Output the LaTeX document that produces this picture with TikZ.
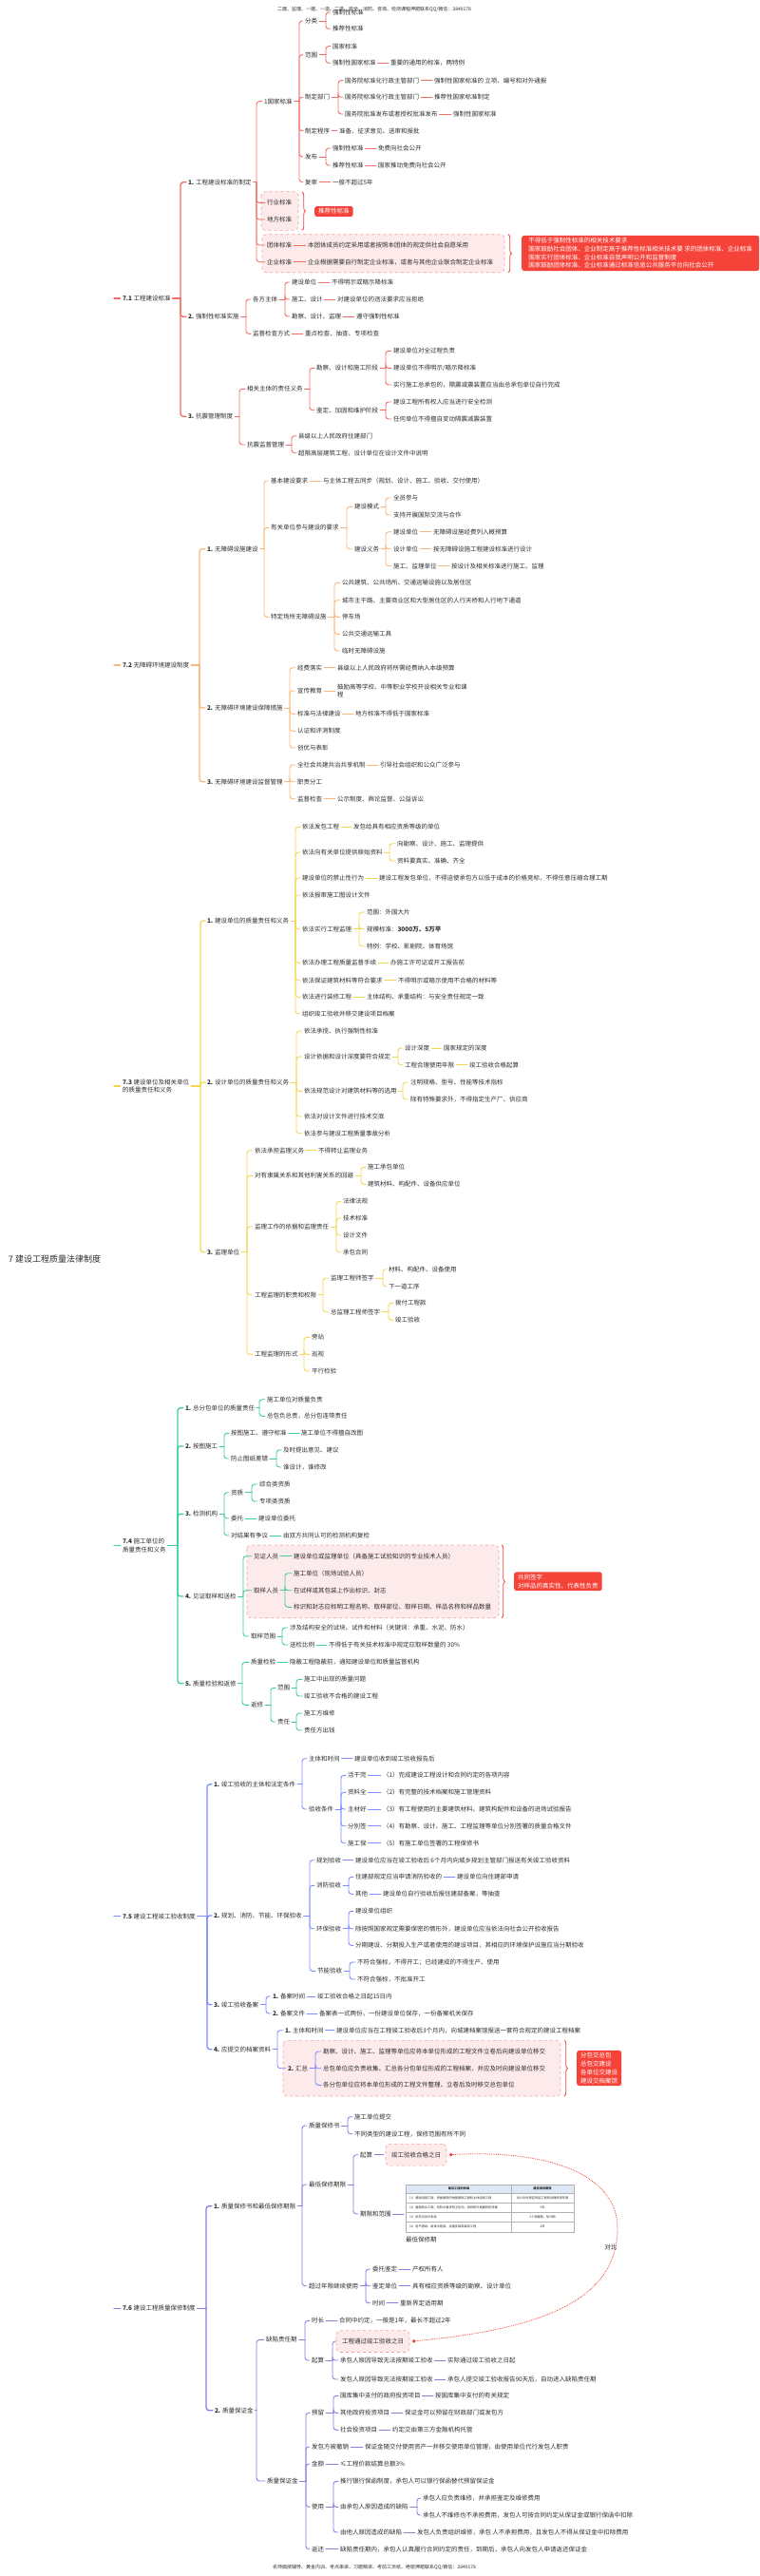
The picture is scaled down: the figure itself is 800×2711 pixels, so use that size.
\documentclass[tikz,border=0pt]{standalone}
\usepackage{fontspec}
\setmainfont{Noto Sans CJK SC}
\usetikzlibrary{arrows.meta,decorations.pathreplacing}
\definecolor{txc}{RGB}{45,45,45}
\definecolor{c1}{RGB}{242,110,100}
\definecolor{c2}{RGB}{250,183,120}
\definecolor{c3}{RGB}{246,214,80}
\definecolor{c4}{RGB}{60,206,158}
\definecolor{c5}{RGB}{122,140,255}
\definecolor{c6}{RGB}{140,124,226}
\definecolor{pf}{RGB}{253,234,234}
\definecolor{pb}{RGB}{245,160,160}
\definecolor{rb}{RGB}{245,67,58}
\definecolor{thd}{RGB}{221,232,246}
\tikzset{
 lbl/.style={anchor=west,inner sep=0pt,outer sep=0pt,align=left,font=\fontsize{6.5}{8.4}\selectfont,text=txc},
 lk/.style={line width=0.9pt,line cap=round},
 lk1/.style={line width=1.3pt,line cap=round},
 pbox/.style={draw=pb,fill=pf,dashed,rounded corners=4pt,line width=0.6pt},
 pk/.style={lbl,draw=pb,fill=pf,dashed,rounded corners=4pt,line width=0.6pt,inner xsep=6pt,inner ysep=8.4pt},
 rbox/.style={fill=rb,rounded corners=2.5pt,text=white,inner xsep=4pt,inner ysep=2.5pt,align=left,font=\fontsize{6.5}{8.7}\selectfont},
 brc/.style={draw=rb,line width=0.8pt,decorate,decoration={brace,amplitude=3.5pt}},
 tiny/.style={inner sep=0pt,font=\fontsize{3.2}{4}\selectfont,text=txc},
 small/.style={inner sep=0pt,anchor=west,font=\fontsize{5}{6}\selectfont,text=txc},
}
\newcommand\mnode[4]{\node[lbl] (#1) at (#2,#3) {#4};}
\newcommand\mlink[2]{\draw[lk] ([xshift=2pt]#1.east) -- ([xshift=-2pt]#2.west);}
\newcommand\mpair[6]{\mnode{#1}{#2}{#3}{#4}\mnode{#1x}{#5}{#3}{#6}\mlink{#1}{#1x}}
\newcommand\mbr[4][lk]{\draw[#1] ([xshift=2pt]#2.east) -- (#3,0 |- #2.east);\foreach \ch in {#4}{\draw[#1,rounded corners=3pt] (#3,0 |- #2.east) |- ([xshift=-2pt]\ch.west);}}
\begin{document}
\begin{tikzpicture}[x=1pt,y=-1pt]
\fill[white] (0,0) rectangle (800,2711);
\useasboundingbox (0,0) rectangle (800,2711);

\node[small] (hdr) at (292,10) {二建、监理、一建、一造、二造、安全、消防、咨询、检测课程押题联系QQ/微信：3849178};
\node[small] (ftr) at (287,2701.7) {名师面授辅导、黄金内训、考点串讲、习题精讲、考前三页纸、绝密押题联系QQ/微信：3849178};

\node[lbl,font=\fontsize{9}{11}\selectfont] (root) at (9,1325) {7 建设工程质量法律制度};

% ================= T1 =================
\begin{scope}[color=c1]
\draw[pbox] (275,201.7) rectangle (314,242.3);
\draw[pbox] (276,246.7) rectangle (531,286.7);
\mnode{T1}{129}{314}{\textbf{7.1} 工程建设标准}
\mnode{a1}{198}{191.7}{\textbf{1.} 工程建设标准的制定}
\mnode{a2}{198}{333.3}{\textbf{2.} 强制性标准实施}
\mnode{a3}{198}{438.3}{\textbf{3.} 抗震管理制度}
\mbr[lk1]{T1}{190}{a1,a2,a3}
\mnode{an}{278}{106.7}{1国家标准}
\mnode{ah}{281}{213.3}{行业标准}
\mnode{ad}{281}{231}{地方标准}
\mpair{at}{281}{258}{团体标准}{324}{本团体成员约定采用或者按照本团体的规定供社会自愿采用}
\mpair{aq}{281}{275.7}{企业标准}{324}{企业根据需要自行制定企业标准，或者与其他企业联合制定企业标准}
\mbr{a1}{270}{an,ah,ad,at,aq}
\mnode{an1}{321}{22}{分类}
\mnode{an2}{321}{57.7}{范围}
\mnode{an3}{321}{102.3}{制定部门}
\mpair{an4}{321}{137.7}{制定程序}{357}{准备、征求意见、送审和报批}
\mnode{an5}{321}{165}{发布}
\mpair{an6}{321}{191.7}{复审}{350}{一般不超过5年}
\mbr{an}{315}{an1,an2,an3,an4,an5,an6}
\mnode{an1a}{350}{13}{强制性标准}
\mnode{an1b}{350}{30.3}{推荐性标准}
\mbr{an1}{343}{an1a,an1b}
\mnode{an2a}{350}{48.7}{国家标准}
\mpair{an2b}{350}{66.3}{强制性国家标准}{411}{重要的通用的标准，两特例}
\mbr{an2}{343}{an2a,an2b}
\mpair{an3a}{363}{84.7}{国务院标准化行政主管部门}{457}{强制性国家标准的 立项、编号和对外通报}
\mpair{an3b}{363}{102.3}{国务院标准化行政主管部门}{457}{推荐性国家标准制定}
\mpair{an3c}{363}{120}{国务院批准发布或者授权批准发布}{477}{强制性国家标准}
\mbr{an3}{356}{an3a,an3b,an3c}
\mpair{an5a}{350}{156}{强制性标准}{398}{免费向社会公开}
\mpair{an5b}{350}{174}{推荐性标准}{398}{国家推动免费向社会公开}
\mbr{an5}{343}{an5a,an5b}
\draw[brc] (318,202) -- (318,242.3);
\node[rbox,anchor=west] (ar1) at (331,222.5) {推荐性标准};
\draw[brc] (535,246.7) -- (535,286.7);
\node[rbox,anchor=north west,minimum width=250pt] (ar2) at (549,247.7) {不得低于强制性标准的相关技术要求\\国家鼓励社会团体、企业制定高于推荐性标准相关技术要 求的团体标准、企业标准\\国家实行团体标准、企业标准自我声明公开和监督制度\\国家鼓励团体标准、企业标准通过标准信息公共服务平台向社会公开};
\mnode{a2a}{266}{315}{各方主体}
\mpair{a2b}{266}{351.3}{监督检查方式}{321}{重点检查、抽查、专项检查}
\mbr{a2}{259}{a2a,a2b}
\mpair{a2a1}{307}{297}{建设单位}{349}{不得明示或暗示降标准}
\mpair{a2a2}{307}{315}{施工、设计}{355}{对建设单位的违法要求应当拒绝}
\mpair{a2a3}{307}{333}{勘察、设计、监理}{375}{遵守强制性标准}
\mbr{a2a}{300}{a2a1,a2a2,a2a3}
\mnode{a3a}{260}{409.3}{相关主体的责任义务}
\mnode{a3b}{260}{468}{抗震监督管理}
\mbr{a3}{252}{a3a,a3b}
\mnode{a3a1}{333}{387.3}{勘察、设计和施工阶段}
\mnode{a3a2}{333}{431.7}{鉴定、加固和维护阶段}
\mbr{a3a}{326}{a3a1,a3a2}
\mnode{ap1}{414}{369.3}{建设单位对全过程负责}
\mnode{ap2}{414}{387.3}{建设单位不得明示/暗示降标准}
\mnode{ap3}{414}{405}{实行施工总承包的，隔震减震装置应当由总承包单位自行完成}
\mbr{a3a1}{406}{ap1,ap2,ap3}
\mnode{ap4}{414}{423}{建设工程所有权人应当进行安全检测}
\mnode{ap5}{414}{441}{任何单位不得擅自变动隔震减震装置}
\mbr{a3a2}{406}{ap4,ap5}
\mnode{ap6}{314}{458.7}{县级以上人民政府住建部门}
\mnode{ap7}{314}{476.7}{超限高层建筑工程，设计单位在设计文件中说明}
\mbr{a3b}{307}{ap6,ap7}
\end{scope}

% ================= T2 =================
\begin{scope}[color=c2]
\mnode{T2}{129}{700}{\textbf{7.2} 无障碍环境建设制度}
\mnode{b1}{218}{577.7}{\textbf{1.} 无障碍设施建设}
\mnode{b2}{218}{745}{\textbf{2.} 无障碍环境建设保障措施}
\mnode{b3}{218}{822.7}{\textbf{3.} 无障碍环境建设监督管理}
\mbr[lk1]{T2}{210}{b1,b2,b3}
\mpair{b1a}{285}{506}{基本建设要求}{340}{与主体工程五同步（规划、设计、施工、验收、交付使用）}
\mnode{b1b}{285}{555.3}{有关单位参与建设的要求}
\mnode{b1c}{285}{649.3}{特定场所无障碍设施}
\mbr{b1}{278}{b1a,b1b,b1c}
\mnode{b1b1}{373}{533.3}{建设模式}
\mnode{b1b2}{373}{577.7}{建设义务}
\mbr{b1b}{365}{b1b1,b1b2}
\mnode{bq1}{414}{524}{全员参与}
\mnode{bq2}{414}{542}{支持开展国际交流与合作}
\mbr{b1b1}{406}{bq1,bq2}
\mpair{bq3}{414}{559.7}{建设单位}{456}{无障碍设施经费列入概预算}
\mpair{bq4}{414}{577.7}{设计单位}{456}{按无障碍设施工程建设标准进行设计}
\mpair{bq5}{414}{595.7}{施工、监理单位}{475}{按设计及相关标准进行施工、监理}
\mbr{b1b2}{406}{bq3,bq4,bq5}
\mnode{bs1}{360}{613.3}{公共建筑、公共场所、交通运输设施以及居住区}
\mnode{bs2}{360}{631.7}{城市主干路、主要商业区和大型居住区的人行天桥和人行地下通道}
\mnode{bs3}{360}{649.3}{停车场}
\mnode{bs4}{360}{667.3}{公共交通运输工具}
\mnode{bs5}{360}{685}{临时无障碍设施}
\mbr{b1c}{352}{bs1,bs2,bs3,bs4,bs5}
\mpair{b2a}{313}{702.7}{经费落实}{355}{县级以上人民政府将所需经费纳入本级预算}
\mpair{b2b}{313}{727}{宣传教育}{355}{鼓励高等学校、中等职业学校开设相关专业和课\\程}
\mpair{b2c}{313}{751.3}{标准与法律建设}{374}{地方标准不得低于国家标准}
\mnode{b2d}{313}{769.3}{认证和评测制度}
\mnode{b2e}{313}{787}{创优与表彰}
\mbr{b2}{305}{b2a,b2b,b2c,b2d,b2e}
\mpair{b3a}{313}{805}{全社会共建共治共享机制}{400}{引导社会组织和公众广泛参与}
\mnode{b3b}{313}{822.7}{职责分工}
\mpair{b3c}{313}{840.7}{监督检查}{355}{公示制度、舆论监督、公益诉讼}
\mbr{b3}{305}{b3a,b3b,b3c}
\end{scope}

% ================= T3 =================
\begin{scope}[color=c3]
\mnode{T3}{129}{1143}{\textbf{7.3} 建设单位及相关单位\\的质量责任和义务}
\mnode{c1}{218}{969}{\textbf{1.} 建设单位的质量责任和义务}
\mnode{c2}{218}{1139}{\textbf{2.} 设计单位的质量责任和义务}
\mnode{c3}{218}{1317.7}{\textbf{3.} 监理单位}
\mbr[lk1]{T3}{211}{c1,c2,c3}
\mpair{c1a}{318}{870.3}{依法发包工程}{372}{发包给具有相应资质等级的单位}
\mnode{c1b}{318}{897}{依法向有关单位提供原始资料}
\mpair{c1c}{318}{924}{建设单位的禁止性行为}{399}{建设工程发包单位，不得迫使承包方以低于成本的价格竞标，不得任意压缩合理工期}
\mnode{c1d}{318}{942}{依法报审施工图设计文件}
\mnode{c1e}{318}{977.7}{依法实行工程监理}
\mpair{c1f}{318}{1013.3}{依法办理工程质量监督手续}{411}{办施工许可证或开工报告前}
\mpair{c1g}{318}{1031.7}{依法保证建筑材料等符合要求}{419}{不得明示或暗示使用不合格的材料等}
\mpair{c1h}{318}{1049.3}{依法进行装修工程}{386}{主体结构、承重结构：与安全责任规定一致}
\mnode{c1i}{318}{1066.7}{组织竣工验收并移交建设项目档案}
\mbr{c1}{311}{c1a,c1b,c1c,c1d,c1e,c1f,c1g,c1h,c1i}
\mnode{cb1}{418}{887.7}{向勘察、设计、施工、监理提供}
\mnode{cb2}{418}{906}{资料要真实、准确、齐全}
\mbr{c1b}{410}{cb1,cb2}
\mnode{ce1}{386}{960}{范围：外国大片}
\mnode{ce2}{386}{977.7}{规模标准：\textbf{3000万、5万平}}
\mnode{ce3}{386}{995.7}{特例：学校、影剧院、体育场馆}
\mbr{c1e}{378}{ce1,ce2,ce3}
\mnode{c2a}{320}{1085}{依法承揽、执行强制性标准}
\mnode{c2b}{320}{1112}{设计依据和设计深度要符合规定}
\mnode{c2c}{320}{1148.3}{依法规范设计对建筑材料等的选用}
\mnode{c2d}{320}{1175}{依法对设计文件进行技术交底}
\mnode{c2e}{320}{1192.7}{依法参与建设工程质量事故分析}
\mbr{c2}{312}{c2a,c2b,c2c,c2d,c2e}
\mpair{cc1}{426}{1103}{设计深度}{467}{国家规定的深度}
\mpair{cc2}{426}{1120.7}{工程合理使用年限}{494}{竣工验收合格起算}
\mbr{c2b}{419}{cc1,cc2}
\mnode{cc3}{432}{1139}{注明规格、型号、性能等技术指标}
\mnode{cc4}{432}{1157}{除有特殊要求外，不得指定生产厂、供应商}
\mbr{c2c}{424}{cc3,cc4}
\mpair{c3a}{268}{1210.7}{依法承担监理义务}{335}{不得转让监理业务}
\mnode{c3b}{268}{1237.3}{对有隶属关系和其他利害关系的回避}
\mnode{c3c}{268}{1291}{监理工作的依据和监理责任}
\mnode{c3d}{268}{1362.7}{工程监理的职责和权限}
\mnode{c3e}{268}{1425.3}{工程监理的形式}
\mbr{c3}{260}{c3a,c3b,c3c,c3d,c3e}
\mnode{cm1}{387}{1228.3}{施工承包单位}
\mnode{cm2}{387}{1246.3}{建筑材料、构配件、设备供应单位}
\mbr{c3b}{380}{cm1,cm2}
\mnode{cm3}{361}{1264.3}{法律法规}
\mnode{cm4}{361}{1282}{技术标准}
\mnode{cm5}{361}{1300}{设计文件}
\mnode{cm6}{361}{1317.7}{承包合同}
\mbr{c3c}{354}{cm3,cm4,cm5,cm6}
\mnode{cd1}{348}{1345}{监理工程师签字}
\mnode{cd2}{348}{1380.7}{总监理工程师签字}
\mbr{c3d}{340}{cd1,cd2}
\mnode{cd3}{409}{1335.7}{材料、构配件、设备使用}
\mnode{cd4}{409}{1353.7}{下一道工序}
\mbr{cd1}{403}{cd3,cd4}
\mnode{cd5}{416}{1371.3}{拨付工程款}
\mnode{cd6}{416}{1389.3}{竣工验收}
\mbr{cd2}{409}{cd5,cd6}
\mnode{cf1}{328}{1407.3}{旁站}
\mnode{cf2}{328}{1425.3}{巡视}
\mnode{cf3}{328}{1443}{平行检验}
\mbr{c3e}{320}{cf1,cf2,cf3}
\end{scope}

% ================= T4 =================
\begin{scope}[color=c4]
\draw[pbox] (260,1626) rectangle (525,1702.7);
\mnode{T4}{129}{1626.5}{\textbf{7.4} 施工单位的\\质量责任和义务}
\mnode{d1}{195}{1481.7}{\textbf{1.} 总分包单位的质量责任}
\mnode{d2}{195}{1522}{\textbf{2.} 按图施工}
\mnode{d3}{195}{1593.3}{\textbf{3.} 检测机构}
\mnode{d4}{195}{1680}{\textbf{4.} 见证取样和送检}
\mnode{d5}{195}{1771.7}{\textbf{5.} 质量检验和返修}
\mbr[lk1]{T4}{187}{d1,d2,d3,d4,d5}
\mnode{d1a}{281}{1472.7}{施工单位对质量负责}
\mnode{d1b}{281}{1490.3}{总包负总责，总分包连带责任}
\mbr{d1}{273}{d1a,d1b}
\mpair{d2a}{243}{1508.3}{按图施工、遵守标准}{317}{施工单位不得擅自改图}
\mnode{d2b}{243}{1535}{防止图纸差错}
\mbr{d2}{236}{d2a,d2b}
\mnode{d2b1}{298}{1526}{及时提出意见、建议}
\mnode{d2b2}{298}{1544}{谁设计，谁修改}
\mbr{d2b}{291}{d2b1,d2b2}
\mnode{d3a}{243}{1570.7}{资质}
\mpair{d3b}{243}{1598}{委托}{272}{建设单位委托}
\mpair{d3c}{243}{1616}{对结果有争议}{298}{由双方共同认可的检测机构复检}
\mbr{d3}{236}{d3a,d3b,d3c}
\mnode{d3a1}{273}{1562}{综合类资质}
\mnode{d3a2}{273}{1580}{专项类资质}
\mbr{d3a}{265}{d3a1,d3a2}
\mpair{d4a}{267}{1637.7}{见证人员}{309}{建设单位或监理单位（具备施工试验知识的专业技术人员）}
\mnode{d4b}{267}{1673.7}{取样人员}
\mnode{d4c}{264}{1722}{取样范围}
\mbr{d4}{256}{d4a,d4b,d4c}
\mnode{d4b1}{309}{1655.7}{施工单位（现场试验人员）}
\mnode{d4b2}{309}{1673.7}{在试样或其包装上作出标识、封志}
\mnode{d4b3}{309}{1691.3}{标识和封志应标明工程名称、取样部位、取样日期、样品名称和样品数量}
\mbr{d4b}{300}{d4b1,d4b2,d4b3}
\mnode{d4c1}{305}{1713}{涉及结构安全的试块、试件和材料（关键词：承重、水泥、防水）}
\mpair{d4c2}{305}{1731}{送检比例}{346}{不得低于有关技术标准中规定应取样数量的 30\%}
\mbr{d4c}{297}{d4c1,d4c2}
\draw[brc] (528,1626) -- (528,1702.7);
\node[rbox,anchor=west] (dr) at (541,1664.3) {共同签字\\对样品的真实性、代表性负责};
\mpair{d5a}{264}{1749.3}{质量检验}{305}{隐蔽工程隐蔽前，通知建设单位和质量监督机构}
\mnode{d5b}{264}{1794.3}{返修}
\mbr{d5}{255}{d5a,d5b}
\mnode{d5b1}{292}{1776.3}{范围}
\mnode{d5b2}{292}{1812}{责任}
\mbr{d5b}{285}{d5b1,d5b2}
\mnode{dr1}{320}{1767.3}{施工中出现的质量问题}
\mnode{dr2}{320}{1785}{竣工验收不合格的建设工程}
\mbr{d5b1}{312}{dr1,dr2}
\mnode{dr3}{320}{1803}{施工方维修}
\mnode{dr4}{320}{1821}{责任方出钱}
\mbr{d5b2}{312}{dr3,dr4}
\end{scope}

% ================= T5 =================
\begin{scope}[color=c5]
\draw[pbox] (298,2147.3) rectangle (590,2206);
\mnode{T5}{129}{2016.7}{\textbf{7.5} 建设工程竣工验收制度}
\mnode{e1}{225}{1877.7}{\textbf{1.} 竣工验收的主体和法定条件}
\mnode{e2}{225}{2016}{\textbf{2.} 规划、消防、节能、环保验收}
\mnode{e3}{225}{2109.7}{\textbf{3.} 竣工验收备案}
\mnode{e4}{225}{2156.7}{\textbf{4.} 应提交的档案资料}
\mbr[lk1]{T5}{218}{e1,e2,e3,e4}
\mpair{e1a}{325}{1850.7}{主体和时间}{373}{建设单位收到竣工验收报告后}
\mnode{e1b}{325}{1904}{验收条件}
\mbr{e1}{318}{e1a,e1b}
\mpair{ec1}{366}{1868.3}{活干完}{403}{（1）完成建设工程设计和合同约定的各项内容}
\mpair{ec2}{366}{1886.3}{资料全}{403}{（2）有完整的技术档案和施工管理资料}
\mpair{ec3}{366}{1904}{主材好}{403}{（3）有工程使用的主要建筑材料、建筑构配件和设备的进场试验报告}
\mpair{ec4}{366}{1921.7}{分别签}{403}{（4）有勘察、设计、施工、工程监理等单位分别签署的质量合格文件}
\mpair{ec5}{366}{1939.7}{施工保}{403}{（5）有施工单位签署的工程保修书}
\mbr{e1b}{359}{ec1,ec2,ec3,ec4,ec5}
\mpair{e2a}{333}{1957.7}{规划验收}{374}{建设单位应当在竣工验收后 6个月内向城乡规划主管部门报送有关竣工验收资料}
\mnode{e2b}{333}{1984.3}{消防验收}
\mnode{e2c}{333}{2029.7}{环保验收}
\mnode{e2d}{334}{2074.3}{节能验收}
\mbr{e2}{326}{e2a,e2b,e2c,e2d}
\mpair{eb1}{374}{1975.3}{住建部规定应当申请消防验收的}{481}{建设单位向住建部申请}
\mpair{eb2}{374}{1993.3}{其他}{403}{建设单位自行验收后报住建部备案，等抽查}
\mbr{e2b}{367}{eb1,eb2}
\mnode{eh1}{374}{2011.3}{建设单位组织}
\mnode{eh2}{374}{2029.7}{除按照国家规定需要保密的情形外，建设单位应当依法向社会公开验收报告}
\mnode{eh3}{374}{2047.3}{分期建设、分期投入生产或者使用的建设项目，其相应的环境保护设施应当分期验收}
\mbr{e2c}{367}{eh1,eh2,eh3}
\mnode{ej1}{376}{2065}{不符合强标，不得开工；已经建成的不得生产、使用}
\mnode{ej2}{376}{2083}{不符合强标，不批准开工}
\mbr{e2d}{368}{ej1,ej2}
\mpair{e3a}{287}{2101}{\textbf{1.} 备案时间}{334}{竣工验收合格之日起15日内}
\mpair{e3b}{287}{2119}{\textbf{2.} 备案文件}{336}{备案表一式两份，一份建设单位保存，一份备案机关保存}
\mbr{e3}{280}{e3a,e3b}
\mpair{e4a}{300}{2136.7}{\textbf{1.} 主体和时间}{354}{建设单位应当在工程竣工验收后3个月内，向城建档案馆报送一套符合规定的建设工程档案}
\mnode{e4b}{303}{2176.7}{\textbf{2.} 汇总}
\mbr{e4}{292}{e4a,e4b}
\mnode{eg1}{340}{2159}{勘察、设计、施工、监理等单位应将本单位形成的工程文件立卷后向建设单位移交}
\mnode{eg2}{340}{2176.7}{总包单位应负责收集、汇总各分包单位形成的工程档案，并应及时向建设单位移交}
\mnode{eg3}{340}{2194.3}{各分包单位应将本单位形成的工程文件整理、立卷后及时移交总包单位}
\mbr{e4b}{332}{eg1,eg2,eg3}
\draw[brc] (594,2147.3) -- (594,2206);
\node[rbox,anchor=north west] (er) at (607,2157.7) {分包交总包\\总包交建设\\各单位交建设\\建设交档案馆};
\end{scope}

% ================= T6 =================
\begin{scope}[color=c6]
\mnode{T6}{129}{2429.3}{\textbf{7.6} 建设工程质量保修制度}
\mnode{f1}{225}{2321.7}{\textbf{1.} 质量保修书和最低保修期限}
\mnode{f2}{226}{2536.7}{\textbf{2.} 质量保证金}
\mbr[lk1]{T6}{217}{f1,f2}
\mnode{f1a}{325}{2237}{质量保修书}
\mnode{f1b}{325}{2299}{最低保修期限}
\mnode{f1c}{325}{2405.7}{超过年限继续使用}
\mbr{f1}{318}{f1a,f1b,f1c}
\mnode{fa1}{373}{2227.7}{施工单位提交}
\mnode{fa2}{373}{2245.7}{不同类型的建设工程，保修范围有所不同}
\mbr{f1a}{366}{fa1,fa2}
\mnode{fb1}{379}{2267.7}{起算}
\mnode{fb2}{379}{2330}{期限和范围}
\mbr{f1b}{372}{fb1,fb2}
\node[pk] (fbx) at (406,2267.7) {竣工验收合格之日};
\mlink{fb1}{fbx}
% table
\fill[thd] (427,2299) rectangle (604,2308.3);
\draw[gray!60,line width=0.4pt] (427,2299) rectangle (604,2348.7);
\foreach \yy in {2308.3,2318.3,2328.3,2338.3} \draw[gray!60,line width=0.4pt] (427,\yy) -- (604,\yy);
\draw[gray!60,line width=0.4pt] (538.6,2299) -- (538.6,2348.7);
\node[tiny] (th1) at (483,2303.6) {\textbf{建设工程的种类}};
\node[tiny] (th2) at (571,2303.6) {\textbf{最低保修期限}};
\node[tiny,anchor=west] (tr1) at (429,2313.3) {（1）基础设施工程、房屋建筑的地基基础工程和主体结构工程};
\node[tiny] (tv1) at (571,2313.3) {设计文件规定的该工程的合理使用年限};
\node[tiny,anchor=west] (tr2) at (429,2323.3) {（2）屋面防水工程、有防水要求的卫生间、房间和外墙面的防渗漏};
\node[tiny] (tv2) at (571,2323.3) {5年};
\node[tiny,anchor=west] (tr3) at (429,2333.3) {（3）供热与供冷系统};
\node[tiny] (tv3) at (571,2333.3) {2个采暖期、供冷期};
\node[tiny,anchor=west] (tr4) at (429,2343.5) {（4）电气管线、给排水管道、设备安装和装修工程};
\node[tiny] (tv4) at (571,2343.5) {2年};
\mnode{fcap}{427}{2357.3}{最低保修期}
\coordinate (tblw) at (427,2330);
\draw[lk] ([xshift=2pt]fb2.east) -- ([xshift=-2pt]tblw);
\mpair{fc1}{392}{2388}{委托鉴定}{434}{产权所有人}
\mpair{fc2}{392}{2405.7}{鉴定单位}{434}{具有相应资质等级的勘察、设计单位}
\mpair{fc3}{392}{2423.7}{时间}{421}{重新界定适用期}
\mbr{f1c}{385}{fc1,fc2,fc3}
\mnode{f2a}{280}{2462.3}{缺陷责任期}
\mnode{f2b}{281}{2611}{质量保证金}
\mbr{f2}{270}{f2a,f2b}
\mpair{fd1}{328}{2442.3}{时长}{357}{合同中约定，一般是1年，最长不超过2年}
\mnode{fd2}{328}{2484}{起算}
\mbr{f2a}{321}{fd1,fd2}
\node[pk] (fdx) at (354,2464) {工程通过竣工验收之日};
\mpair{fd3}{358}{2484}{承包人原因导致无法按期竣工验收}{471}{实际通过竣工验收之日起}
\mpair{fd4}{358}{2504}{发包人原因导致无法按期竣工验收}{471}{承包人提交竣工验收报告90天后，自动进入缺陷责任期}
\mbr{fd2}{350}{fdx,fd3,fd4}
\mnode{fe1}{328}{2539.3}{预留}
\mpair{fe2}{328}{2575}{发包方被撤销}{384}{保证金随交付使用资产一并移交使用单位管理，由使用单位代行发包人职责}
\mpair{fe3}{328}{2593}{金额}{358}{≤工程价款结算总额3\%}
\mnode{fe4}{328}{2638.3}{使用}
\mpair{fe5}{328}{2682.7}{返还}{358}{缺陷责任期内，承包人认真履行合同约定的责任，到期后，承包人向发包人申请返还保证金}
\mbr{f2b}{322}{fe1,fe2,fe3,fe4,fe5}
\mpair{fg1}{358}{2521.3}{国库集中支付的政府投资项目}{458}{按国库集中支付的有关规定}
\mpair{fg2}{358}{2539.3}{其他政府投资项目}{426}{保证金可以预留在财政部门或发包方}
\mpair{fg3}{358}{2557.3}{社会投资项目}{413}{约定交由第三方金融机构托管}
\mbr{fe1}{351}{fg1,fg2,fg3}
\mnode{fh1}{358}{2611.3}{推行银行保函制度，承包人可以银行保函替代预留保证金}
\mnode{fh2}{358}{2638.3}{由承包人原因造成的缺陷}
\mpair{fh3}{358}{2665}{由他人原因造成的缺陷}{439}{发包人负责组织维修，承包 人不承担费用，且发包人不得从保证金中扣除费用}
\mbr{fe4}{351}{fh1,fh2,fh3}
\mnode{fi1}{445}{2629}{承包人应负责维修，并承担鉴定及维修费用}
\mnode{fi2}{445}{2647}{承包人不维修也不承担费用，发包人可按合同约定从保证金或银行保函中扣除}
\mbr{fh2}{439}{fi1,fi2}
\end{scope}

% compare curve
\draw[rb,line width=0.8pt,densely dotted,{Circle[length=3.5pt]}-{Circle[length=3.5pt]}] ([xshift=3pt]fdx.east) .. controls (560,2452) and (650,2425) .. (650,2345) .. controls (650,2285) and (570,2262) .. ([xshift=3pt]fbx.east);
\node[lbl,anchor=center] (cmp) at (643,2365) {对比};

% short stubs in front of the main topics
\foreach \tn/\cc in {T1/c1,T2/c2,T3/c3,T4/c4,T5/c5,T6/c6}{
  \coordinate (\tn s) at (120,0 |- \tn.west);
  \draw[line width=1.1pt,line cap=round,\cc] (\tn s) -- ([xshift=-2.5pt]\tn.west);
}
\end{tikzpicture}
\end{document}
